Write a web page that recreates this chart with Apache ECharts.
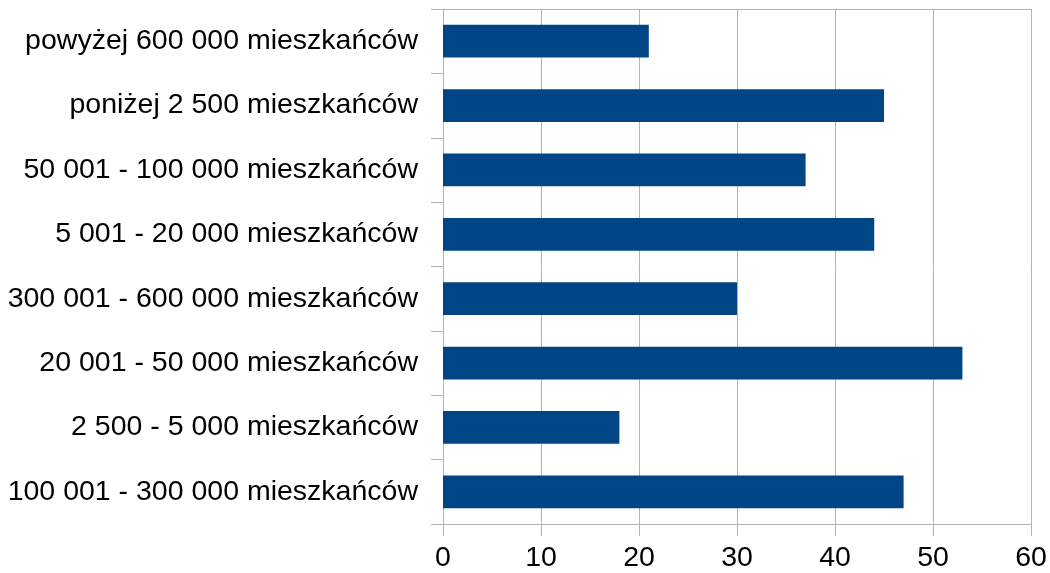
<!DOCTYPE html>
<html>
<head>
<meta charset="utf-8">
<script src="https://cdn.jsdelivr.net/npm/echarts@6/dist/echarts.min.js"></script>
<style>
html,body{margin:0;padding:0;background:#fff;}
#c{width:1050px;height:573px;}
</style>
</head>
<body>
<div id="c"></div>
<script>
// categories listed top to bottom as in the picture
const categories = [
  'powyżej 600 000 mieszkańców',
  'poniżej 2 500 mieszkańców',
  '50 001 - 100 000 mieszkańców',
  '5 001 - 20 000 mieszkańców',
  '300 001 - 600 000 mieszkańców',
  '20 001 - 50 000 mieszkańców',
  '2 500 - 5 000 mieszkańców',
  '100 001 - 300 000 mieszkańców'
];
const values = [21, 45, 37, 44, 30, 53, 18, 47];
const xMin = 0, xMax = 60, xStep = 10;

const gridColor = '#b3b3b3';
const chart = echarts.init(document.getElementById('c'), null, {renderer: 'canvas'});
chart.setOption({
  animation: false,
  grid: {left: 443, right: 19, top: 9, bottom: 49, containLabel: false},
  xAxis: [{
    type: 'value', min: xMin, max: xMax, interval: xStep,
    axisLine: {show: true, lineStyle: {color: gridColor, width: 1}},
    axisTick: {show: true, length: 12, lineStyle: {color: gridColor}},
    axisLabel: {fontFamily: 'Liberation Sans', fontSize: 28.5, color: '#000', margin: 20},
    splitLine: {show: true, lineStyle: {color: gridColor, width: 1}}
  }, {
    type: 'value', position: 'top', min: xMin, max: xMax, interval: xStep,
    axisLine: {show: true, lineStyle: {color: gridColor, width: 1}},
    axisTick: {show: false}, axisLabel: {show: false}, splitLine: {show: false}
  }],
  yAxis: {
    type: 'category', data: categories, inverse: true,
    axisLine: {show: true, lineStyle: {color: gridColor, width: 1}},
    axisTick: {show: true, length: 12, lineStyle: {color: gridColor}},
    axisLabel: {fontFamily: 'Liberation Sans', fontSize: 28.5, color: '#000', margin: 25},
    splitLine: {show: false}
  },
  series: [{
    type: 'bar', data: values, xAxisIndex: 0,
    barCategoryGap: '49%',
    itemStyle: {color: '#004586'}
  }]
});
</script>
</body>
</html>
